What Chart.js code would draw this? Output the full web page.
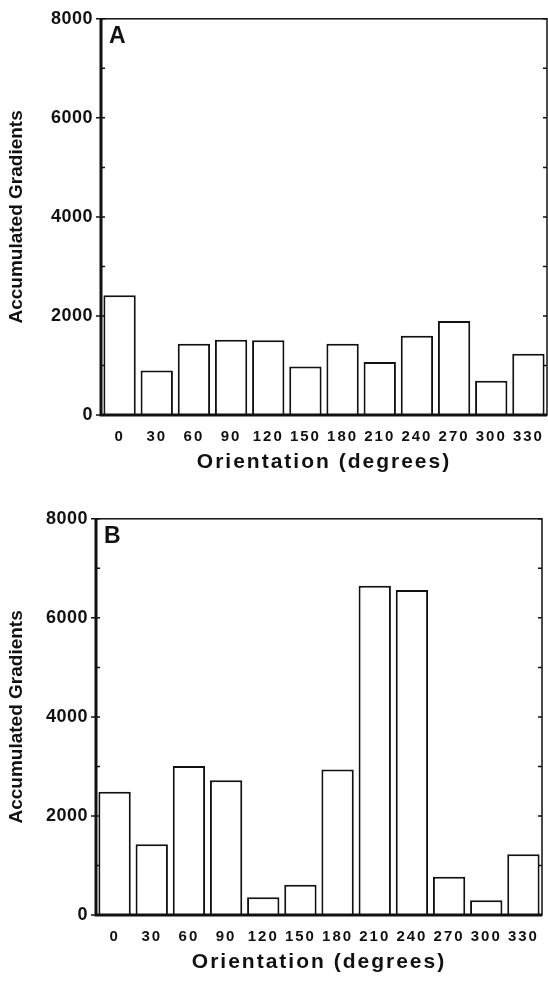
<!DOCTYPE html>
<html>
<head>
<meta charset="utf-8">
<title>Accumulated Gradients by Orientation</title>
<script src="https://cdn.jsdelivr.net/npm/chart.js@4.4.1/dist/chart.umd.min.js"></script>
<style>
    html, body { margin: 0; padding: 0; background: #fff; }
    body { width: 548px; height: 981px; position: relative; overflow: hidden; }
    .panel { position: absolute; left: 0; width: 548px; height: 481px; }
    #panelA { top: 0; }
    #panelB { top: 500px; }
</style>
</head>
<body>
<div class="panel" id="panelA"><canvas id="chartA"></canvas></div>
<div class="panel" id="panelB"><canvas id="chartB"></canvas></div>

<script>
// ========== DATA ==========
const orientations = ['0', '30', '60', '90', '120', '150', '180', '210', '240', '270', '300', '330'];
const gradientsA = [2420, 900, 1440, 1520, 1510, 980, 1440, 1070, 1600, 1900, 690, 1235];
const gradientsB = [2490, 1430, 3010, 2720, 360, 610, 2940, 6650, 6560, 770, 300, 1225];
const yMax = 8000;
const yMajorStep = 2000;
const yMinorStep = 1000;

const FONT = '"Liberation Sans", Arial, Helvetica, sans-serif';
const INK = '#111';

// the printed figure uses wide letter tracking; Chart.js has no option for it
function track(scale, method, spacing) {
    const orig = scale[method];
    scale[method] = function (area) {
        this.ctx.save();
        this.ctx.letterSpacing = spacing;
        orig.call(this, area);
        this.ctx.restore();
    };
}

// frame round the plot, inward tick marks, panel letter
const frameTicks = {
    id: 'frameTicks',
    beforeDraw(chart) {
        const { x, y } = chart.scales;
        if (!x.tracked) {
            track(x, 'drawLabels', '2px');
            track(x, 'drawTitle', '2px');
            track(y, 'drawLabels', '0.5px');
            x.tracked = true;
        }
    },
    afterDraw(chart, args, opts) {
        const { ctx, chartArea: a, scales: { y } } = chart;
        ctx.save();
        ctx.strokeStyle = INK;
        ctx.lineCap = 'butt';

        ctx.lineWidth = 1.5;
        ctx.strokeRect(a.left, a.top, a.right - a.left, a.bottom - a.top);

        // heavier left axis and base line
        ctx.lineWidth = 3;
        ctx.beginPath();
        ctx.moveTo(a.left, a.top);
        ctx.lineTo(a.left, a.bottom);
        ctx.lineTo(a.right, a.bottom);
        ctx.stroke();

        ctx.lineWidth = 1.5;
        for (let v = 0; v <= yMax; v += yMinorStep) {
            const py = y.getPixelForValue(v);
            const major = v % yMajorStep === 0;
            ctx.beginPath();
            ctx.moveTo(a.left - (major ? 5 : 0), py);
            ctx.lineTo(a.left + 4, py);
            ctx.moveTo(a.right - 4, py);
            ctx.lineTo(a.right, py);
            ctx.stroke();
        }

        ctx.fillStyle = INK;
        ctx.font = `bold 23px ${FONT}`;
        ctx.textBaseline = 'alphabetic';
        ctx.textAlign = 'left';
        ctx.fillText(opts.letter, a.left + 8, a.top + 24);
        ctx.restore();
    }
};

function makeChart(canvasId, values, letter, leftWidth, padTop, padRight) {
    const ctx = document.getElementById(canvasId).getContext('2d');
    return new Chart(ctx, {
        type: 'bar',
        data: {
            labels: orientations,
            datasets: [{
                data: values,
                backgroundColor: '#fff',
                borderColor: INK,
                borderWidth: 2,
                barPercentage: 0.87,
                categoryPercentage: 1.0
            }]
        },
        options: {
            responsive: true,
            maintainAspectRatio: false,
            animation: false,
            layout: { padding: { top: padTop, right: padRight, left: 0, bottom: 0 } },
            plugins: {
                legend: { display: false },
                tooltip: { enabled: false },
                frameTicks: { letter: letter }
            },
            scales: {
                x: {
                    grid: { display: false, drawTicks: false },
                    border: { display: false },
                    ticks: {
                        color: INK,
                        padding: 13,
                        maxRotation: 0,
                        autoSkip: false,
                        font: { family: FONT, size: 15, weight: 'bold' }
                    },
                    title: {
                        display: true,
                        text: 'Orientation (degrees)',
                        color: INK,
                        padding: { top: 0, bottom: 6 },
                        font: { family: FONT, size: 21, weight: 'bold' }
                    },
                    afterFit(scale) {
                        scale.height = 66;
                        scale.paddingLeft = 0;
                        scale.paddingRight = 0;
                    }
                },
                y: {
                    min: 0,
                    max: yMax,
                    grid: { display: false, drawTicks: false },
                    border: { display: false },
                    ticks: {
                        stepSize: yMajorStep,
                        color: INK,
                        padding: 8,
                        font: { family: FONT, size: 18, weight: 'bold' },
                        callback: (v) => String(v)
                    },
                    title: {
                        display: true,
                        text: 'Accumulated Gradients',
                        color: INK,
                        padding: 5,
                        font: { family: FONT, size: 19, weight: 'bold' }
                    },
                    afterFit(scale) { scale.width = leftWidth; }
                }
            }
        },
        plugins: [frameTicks]
    });
}

document.addEventListener('DOMContentLoaded', () => {
    makeChart('chartA', gradientsA, 'A', 101, 13, 1);
    makeChart('chartB', gradientsB, 'B', 96, 16, 6);
});
</script>
</body>
</html>
